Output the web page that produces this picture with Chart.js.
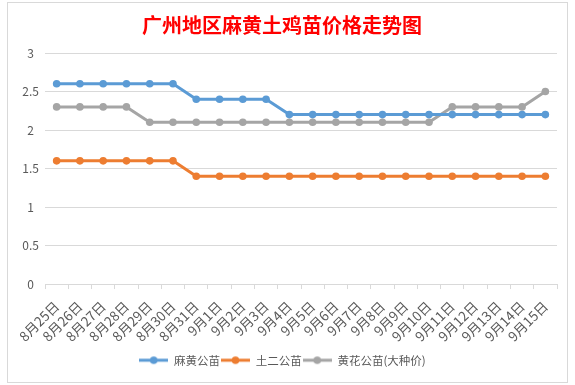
<!DOCTYPE html>
<html><head><meta charset="utf-8">
<script src="https://cdn.jsdelivr.net/npm/chart.js@4.4.1/dist/chart.umd.min.js"></script>
<style>
html,body{margin:0;padding:0;background:#fff;}
#wrap{position:relative;width:575px;height:385px;}
#title{position:absolute;left:142px;top:13px;font:bold 20px "Noto Sans CJK SC",sans-serif;color:#ff0000;white-space:nowrap;line-height:24px;}
canvas{position:absolute;left:0;top:0;}
</style></head>
<body>
<div id="wrap"><canvas id="c" width="575" height="385"></canvas><div id="title">广州地区麻黄土鸡苗价格走势图</div></div>
<script>
const categories = ['8月25日','8月26日','8月27日','8月28日','8月29日','8月30日','8月31日','9月1日','9月2日','9月3日','9月4日','9月5日','9月6日','9月7日','9月8日','9月9日','9月10日','9月11日','9月12日','9月13日','9月14日','9月15日'];
const mahuangGongmiao = [2.6,2.6,2.6,2.6,2.6,2.6,2.4,2.4,2.4,2.4,2.2,2.2,2.2,2.2,2.2,2.2,2.2,2.2,2.2,2.2,2.2,2.2];
const tuerGongmiao = [1.6,1.6,1.6,1.6,1.6,1.6,1.4,1.4,1.4,1.4,1.4,1.4,1.4,1.4,1.4,1.4,1.4,1.4,1.4,1.4,1.4,1.4];
const huanghuaGongmiao = [2.3,2.3,2.3,2.3,2.1,2.1,2.1,2.1,2.1,2.1,2.1,2.1,2.1,2.1,2.1,2.1,2.1,2.3,2.3,2.3,2.3,2.5];
const seriesNames = ['麻黄公苗','土二公苗','黄花公苗(大种价)'];
const seriesColors = ['#5B9BD5','#ED7D31','#A5A5A5'];
const yTicks = [0,0.5,1,1.5,2,2.5,3];

function legendIcon(color){
  const c=document.createElement('canvas');c.width=29;c.height=10;
  const x=c.getContext('2d');
  x.strokeStyle=color;x.lineWidth=3;x.beginPath();x.moveTo(0,5);x.lineTo(29,5);x.stroke();
  x.fillStyle=color;x.beginPath();x.arc(14.5,5,3.8,0,Math.PI*2);x.fill();
  return c;
}
const icons = seriesColors.map(legendIcon);

const frame = {id:'frame',beforeDraw(chart){
  const ctx=chart.ctx;ctx.save();ctx.fillStyle='#fff';ctx.fillRect(0,0,575,385);
  ctx.strokeStyle='#d9d9d9';ctx.lineWidth=1;
  ctx.strokeRect(7.5,2.5,560,380);
  ctx.restore();
}};

const data=[mahuangGongmiao,tuerGongmiao,huanghuaGongmiao];
new Chart(document.getElementById('c'),{
  type:'line',
  data:{labels:categories,datasets:data.map((d,i)=>({
    label:seriesNames[i],data:d,borderColor:seriesColors[i],backgroundColor:seriesColors[i],
    borderWidth:3,pointRadius:3.8,pointHoverRadius:3.8,pointBorderWidth:0,tension:0
  }))},
  options:{
    responsive:false,animation:false,
    layout:{padding:{left:8,right:18,top:53,bottom:9}},
    plugins:{
      title:{display:false},tooltip:{enabled:false},
      legend:{position:'bottom',labels:{
        usePointStyle:true,pointStyleWidth:29,boxHeight:10,padding:1,
        color:'#595959',font:{family:'"Noto Sans CJK SC",sans-serif',size:11.5},
        generateLabels(chart){
          const items=Chart.defaults.plugins.legend.labels.generateLabels(chart);
          items.forEach((it,i)=>{it.pointStyle=icons[i];});
          return items;
        }
      }}
    },
    scales:{
      x:{offset:true,
        grid:{display:true,drawOnChartArea:false,drawTicks:true,tickLength:5,color:'#d9d9d9',offset:true},
        border:{display:true,color:'#d9d9d9'},
        ticks:{minRotation:45,maxRotation:45,autoSkip:false,color:'#595959',padding:9,
          font:{family:'"Noto Sans CJK SC",sans-serif',size:13.5}}},
      y:{min:0,max:3,
        afterBuildTicks(s){s.ticks=yTicks.map(v=>({value:v}));},
        afterFit(s){s.width=37;},
        grid:{color:'#d9d9d9',drawTicks:false},
        border:{display:false},
        ticks:{color:'#595959',crossAlign:'center',padding:6,
          font:{family:'"Noto Sans CJK SC",sans-serif',size:12},
          callback:v=>String(v)}}
    }
  },
  plugins:[frame]
});
</script>
</body></html>
